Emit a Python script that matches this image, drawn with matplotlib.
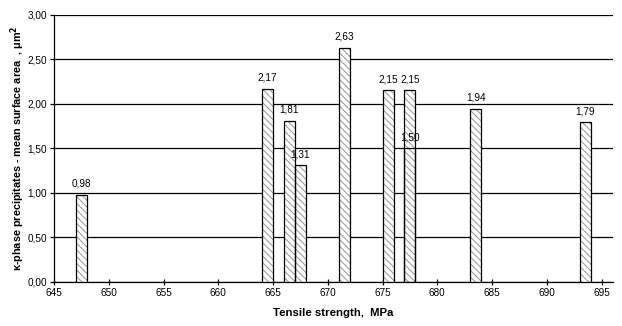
import matplotlib
matplotlib.use("Agg")
import matplotlib.pyplot as plt

plt.rcParams['font.family'] = ['Liberation Sans', 'DejaVu Sans']
plt.rcParams['hatch.linewidth'] = 0.8

strength = [647, 664, 666, 667, 671, 675, 677, 677, 683, 693]
area = [0.98, 2.17, 1.81, 1.31, 2.63, 2.15, 1.50, 2.15, 1.94, 1.79]
labels = ["0,98", "2,17", "1,81", "1,31", "2,63", "2,15", "1,50", "2,15", "1,94", "1,79"]
xticks = list(range(645, 700, 5))
yticks = [0.0, 0.5, 1.0, 1.5, 2.0, 2.5, 3.0]

fig = plt.figure(figsize=(6.22, 3.26), dpi=100)
ax = fig.add_axes([0.0868, 0.135, 0.898, 0.82])

for x, v, lab in zip(strength, area, labels):
    ax.bar(x, v, width=1.0, align='edge', facecolor='white', edgecolor='#a0a0a0',
           hatch='\\\\\\\\\\', linewidth=0, zorder=3)
    ax.bar(x, v, width=1.0, align='edge', facecolor='none', edgecolor='black',
           linewidth=0.9, zorder=3.5)
    ax.text(x + 0.5, v + 0.07, lab, ha='center', va='bottom', fontsize=7.2, zorder=4)

ax.set_xlim(645, 696)
ax.set_ylim(0, 3.0)
ax.set_xticks(xticks)
ax.set_xticklabels([str(t) for t in xticks], fontsize=7.2)
ax.set_yticks(yticks)
ax.set_yticklabels([f"{t:.2f}".replace('.', ',') for t in yticks], fontsize=7.2)
ax.grid(axis='y', color='black', linewidth=0.9, zorder=0)
for s in ['top', 'right']:
    ax.spines[s].set_visible(False)
ax.spines['left'].set_linewidth(0.9)
ax.spines['bottom'].set_linewidth(0.9)
ax.tick_params(axis='x', direction='inout', length=5, width=0.9, pad=2)
ax.tick_params(axis='y', direction='out', length=3, width=0.9, pad=2)

ax.set_xlabel("Tensile strength,  MPa", fontsize=8.2, fontweight='bold', labelpad=7)
ax.set_ylabel(r"κ-phase precipitates - mean surface area  , μm$^{\mathbf{2}}$", fontsize=7.8,
              fontweight='bold')
ax.yaxis.set_label_coords(-0.048, 0.5)

fig.savefig("out.png", dpi=100)
